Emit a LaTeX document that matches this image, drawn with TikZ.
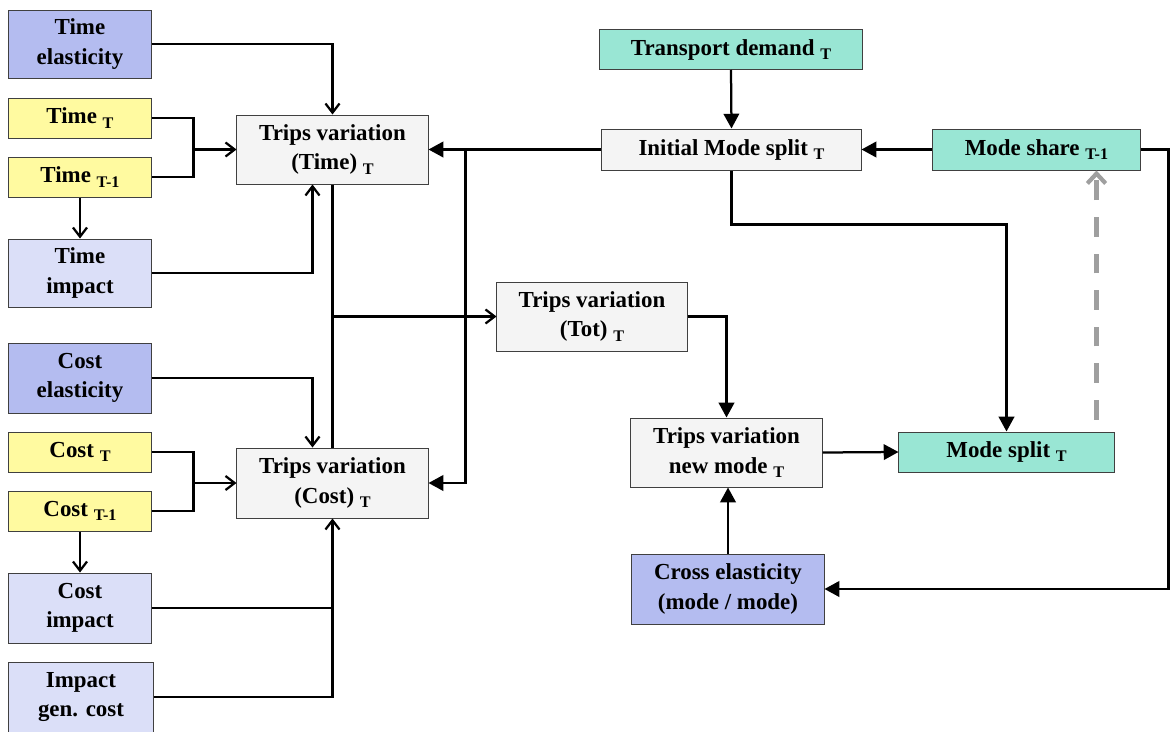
\documentclass[tikz,border=0pt]{standalone}
\usepackage{fontspec}
\setmainfont{Liberation Serif}
\usepackage{tikz}
\usetikzlibrary{arrows.meta, positioning, calc}
\usepackage{xcolor}
\definecolor{elastblue}{RGB}{180,188,240}
\definecolor{impactblue}{RGB}{219,223,248}
\definecolor{inputyellow}{RGB}{255,250,160}
\definecolor{modegreen}{RGB}{153,230,212}
\definecolor{calcgray}{RGB}{244,244,244}
\newcommand{\sbs}[1]{\raisebox{-3pt}{\fontsize{11.5}{12}\selectfont #1}}

\begin{document}
\begin{tikzpicture}[x=0.025cm, y=-0.025cm,
    every node/.style={font=\bfseries\fontsize{16.3}{21}\selectfont},
    box/.style={draw=black!75, line width=0.7pt, align=center, inner sep=0pt},
    elastbox/.style={box, fill=elastblue, minimum width=3.55cm, minimum height=1.7cm},
    impactbox/.style={box, fill=impactblue, minimum width=3.55cm, minimum height=1.75cm},
    inputbox/.style={box, fill=inputyellow, minimum width=3.55cm, minimum height=1cm},
    calcbox/.style={box, fill=calcgray, minimum width=4.775cm, minimum height=1.725cm},
    modebox/.style={box, fill=modegreen, minimum height=1.025cm},
    oarr/.style={-{Straight Barb[length=6.5pt,width=10pt]}, line width=1.6pt},
    farr/.style={-{Triangle[length=10.5pt,width=11pt]}, line width=1.6pt},
    link/.style={line width=1.6pt},
    backarr/.style={-{Straight Barb[length=7pt,width=13pt]}, line width=3pt, gray!75,
      dash pattern=on 14pt off 12pt}]
    \useasboundingbox (0,0) rectangle (1170,731);

    % Time inputs
    \node[elastbox] (telast) at (80,44) {Time\\elasticity};
    \node[inputbox] (timeT) at (80,118) {Time \sbs{T}};
    \node[inputbox] (timeP) at (80,177) {Time \sbs{T-1}};
    \node[impactbox, minimum height=1.7cm] (timpact) at (80,273) {Time\\impact};

    % Cost inputs
    \node[elastbox, minimum height=1.75cm] (celast) at (80,378) {Cost\\elasticity};
    \node[inputbox] (costT) at (80,452) {Cost \sbs{T}};
    \node[inputbox] (costP) at (80,511) {Cost \sbs{T-1}};
    \node[impactbox] (cimpact) at (80,608) {Cost\\impact};
    \node[impactbox, minimum width=3.6cm] (igen) at (81,697) {Impact\\gen. cost};

    % Trips variation
    \node[calcbox] (tvtime) at (332.5,149.5) {Trips variation\\(Time) \sbs{T}};
    \node[calcbox, minimum height=1.75cm] (tvcost) at (332.5,483) {Trips variation\\(Cost) \sbs{T}};
    \node[calcbox, minimum width=4.75cm] (tvtot) at (592,316.5) {Trips variation\\(Tot) \sbs{T}};
    \node[calcbox] (tvnew) at (726.5,452.5) {Trips variation\\new mode \sbs{T}};

    % Mode split
    \node[modebox, minimum width=6.55cm, minimum height=1cm] (tdemand) at (731,49.5) {Transport demand \sbs{T}};
    \node[box, fill=calcgray, minimum width=6.475cm, minimum height=1.025cm] (ims) at (731.5,149.5) {Initial Mode split \sbs{T}};
    \node[modebox, minimum width=5.175cm] (mshare) at (1036.5,149.5) {Mode share \sbs{T-1}};
    \node[modebox, minimum width=5.375cm, minimum height=1cm] (msplit) at (1006.5,452) {Mode split \sbs{T}};
    \node[elastbox, minimum width=4.8cm, minimum height=1.75cm] (cross) at (728,589) {Cross elasticity\\(mode / mode)};

    % Time links
    \draw[oarr] (telast.east) -| (tvtime.north);
    \draw[link] (timeT.east) -- ++(42,0) coordinate (tjoin) -- (tjoin |- timeP.east) -- (timeP.east);
    \draw[oarr] (tjoin |- tvtime.west) -- (tvtime.west);
    \draw[oarr] (timeP.south) -- (timpact.north);
    \draw[oarr] (timpact.east) -| ([xshift=-0.5cm]tvtime.south);

    % Cost links
    \draw[oarr] (celast.east) -| ([xshift=-0.5cm]tvcost.north);
    \draw[link] (costT.east) -- ++(42,0) coordinate (cjoin) -- (cjoin |- costP.east) -- (costP.east);
    \draw[oarr] (cjoin |- tvcost.west) -- (tvcost.west);
    \draw[oarr] (costP.south) -- (cimpact.north);
    \draw[link] (cimpact.east) -- (cimpact.east -| tvcost.south);
    \draw[oarr] (igen.east) -| (tvcost.south);

    % Total
    \draw[link] (tvtime.south) -- (tvcost.north);
    \draw[oarr] (tvtime.south |- tvtot.west) -- (tvtot.west);
    \draw[farr] (tvtot.east) -| (tvnew.north);

    % Mode split links
    \draw[farr] (tdemand.south) -- (ims.north);
    \draw[farr] (mshare.west) -- (ims.east);
    \draw[farr] (ims.west) -- (tvtime.east);
    \coordinate (vsplit) at ($(tvtime.east)+(37,0)$);
    \draw[farr] (vsplit) |- (tvcost.east);
    \draw[farr] (ims.south) -- ++(0,54) -| (msplit.north);
    \draw[farr] (tvnew.east) -- (msplit.west);
    \draw[farr] (cross.north) -- (cross.north |- tvnew.south);
    \draw[farr] (mshare.east) -- ++(28,0) |- (cross.east);

    % Feedback
    \coordinate (fb) at ($(msplit.north)+(90,-12)$);
    \draw[backarr] (fb) -- (fb |- mshare.south);
  \end{tikzpicture}
\end{document}
